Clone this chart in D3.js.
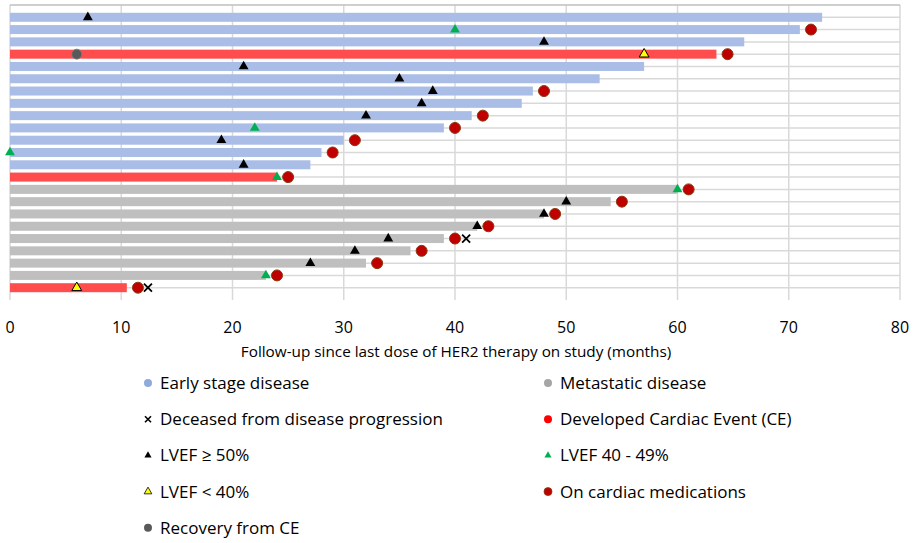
<!DOCTYPE html>
<html>
<head>
<meta charset="utf-8">
<script src="https://cdn.jsdelivr.net/npm/d3@7"></script>
<style>
html,body{margin:0;padding:0;background:#fff;}
text{font-family:"Open Sans","Noto Sans",sans-serif;fill:#000;}
</style>
</head>
<body>
<svg id="chart" width="913" height="543"></svg>
<script>
// ---- data (one entry per patient row, top to bottom) ----
const rowGroup = ["early","early","early","early","early","early","early","early","early","early","early","early","early","early",
                  "meta","meta","meta","meta","meta","meta","meta","meta","meta"];
const rowCE    = [0,0,0,1,0,0,0,0,0,0,0,0,0,1, 0,0,0,0,0,0,0,0,1];
const followUp = [73,71,66,63.5,57,53,47,46,41.5,39,30,28,27,24, 60,54,48,42,39,36,32,23,10.5];

// markers: [row (1 = top), months]
const lvefHigh = [[1,7],[3,48],[5,21],[6,35],[7,38],[8,37],[9,32],[11,19],[13,21],[16,50],[17,48],[18,42],[19,34],[20,31],[21,27]];
const lvefMid  = [[2,40],[10,22],[12,0],[14,24],[15,60],[22,23]];
const lvefLow  = [[4,57],[23,6]];
const onMeds   = [[2,72],[4,64.5],[7,48],[9,42.5],[10,40],[11,31],[12,29],[14,25],[15,61],[16,55],[17,49],[18,43],[19,40],[20,37],[21,33],[22,24],[23,11.5]];
const recovery = [[4,6]];
const deceased = [[19,41],[23,12.4]];

const xTicks = [0,10,20,30,40,50,60,70,80];
const xTitle = "Follow-up since last dose of HER2 therapy on study (months)";

const legendLeft  = [["circle","#8faadc","Early stage disease"],["x","#000","Deceased from disease progression"],["tri","#000","LVEF \u2265 50%"],["triy","#ffff00","LVEF < 40%"],["circle","#595959","Recovery from CE"]];
const legendRight = [["circle","#a6a6a6","Metastatic disease"],["circle","#ff0000","Developed Cardiac Event (CE)"],["tri","#00b050","LVEF 40 - 49%"],["circmed","#c00000","On cardiac medications"]];

// ---- drawing ----
const svg = d3.select("#chart");
const nRows = followUp.length;
const x = d3.scaleLinear().domain([0,80]).range([10,900]);
const y = d3.scaleLinear().domain([0,nRows+1]).range([300,5]);
const rowY = r => y(nRows+1-r);

// gridlines
const g = svg.append("g");
g.selectAll(".hg").data(d3.range(1,nRows+1)).enter().append("line")
  .attr("x1",x(0)).attr("x2",x(80)).attr("y1",d=>y(d)).attr("y2",d=>y(d))
  .attr("stroke","#d9d9d9").attr("stroke-width",1.5);
g.selectAll(".vg").data(xTicks).enter().append("line")
  .attr("x1",d=>x(d)).attr("x2",d=>x(d)).attr("y1",y(0)).attr("y2",y(nRows+1))
  .attr("stroke","#d9d9d9").attr("stroke-width",1.5);
g.append("line").attr("x1",x(0)).attr("x2",x(80)).attr("y1",y(nRows+1)).attr("y2",y(nRows+1))
  .attr("stroke","#bfbfbf").attr("stroke-width",1.5);

// bars
const barColor = i => rowCE[i] ? "#ff4d4d" : (rowGroup[i]==="early" ? "#a9bde6" : "#bfbfbf");
svg.append("g").selectAll("rect").data(followUp).enter().append("rect")
  .attr("x",x(0)).attr("width",d=>x(d)-x(0))
  .attr("y",(d,i)=>rowY(i+1)-4.5).attr("height",9)
  .attr("fill",(d,i)=>barColor(i));

// markers
const triPath = (s) => d3.symbol().type(d3.symbolTriangle).size(s)();
const mk = svg.append("g");
mk.selectAll(".lh").data(lvefHigh).enter().append("path")
  .attr("d",triPath(42)).attr("transform",d=>`translate(${x(d[1])},${rowY(d[0])})`).attr("fill","#000");
mk.selectAll(".lm").data(lvefMid).enter().append("path")
  .attr("d",triPath(42)).attr("transform",d=>`translate(${x(d[1])},${rowY(d[0])})`).attr("fill","#00b050");
mk.selectAll(".ll").data(lvefLow).enter().append("path")
  .attr("d",triPath(42)).attr("transform",d=>`translate(${x(d[1])},${rowY(d[0])})`).attr("fill","#ffff00").attr("stroke","#000").attr("stroke-width",1);
mk.selectAll(".om").data(onMeds).enter().append("circle")
  .attr("cx",d=>x(d[1])).attr("cy",d=>rowY(d[0])).attr("r",5.5)
  .attr("fill","#c00000").attr("stroke","#8a3a10").attr("stroke-width",1);
mk.selectAll(".rc").data(recovery).enter().append("circle")
  .attr("cx",d=>x(d[1])).attr("cy",d=>rowY(d[0])).attr("r",5)
  .attr("fill","#595959").attr("stroke","#7f7f7f").attr("stroke-width",0.8);
mk.selectAll(".dc").data(deceased).enter().append("path")
  .attr("d","M-4,-4L4,4M-4,4L4,-4").attr("transform",d=>`translate(${x(d[1])},${rowY(d[0])})`)
  .attr("stroke","#000").attr("stroke-width",1.8).attr("fill","none");

// x tick labels
svg.append("g").selectAll("text").data(xTicks).enter().append("text")
  .attr("x",d=>x(d)).attr("y",333).attr("text-anchor","middle")
  .attr("font-size",16).text(d=>d);
svg.append("text").attr("x",456).attr("y",357).attr("text-anchor","middle")
  .attr("font-size",15.3).text(xTitle);

// legend
function drawLegend(items, mx, tx) {
  const lg = svg.append("g");
  items.forEach((it,i) => {
    const cy = 383 + i*36.2;
    const [type,color,label] = it;
    if (type==="circle") lg.append("circle").attr("cx",mx).attr("cy",cy).attr("r",4).attr("fill",color);
    else if (type==="circmed") lg.append("circle").attr("cx",mx).attr("cy",cy).attr("r",4).attr("fill",color).attr("stroke","#8a3a10").attr("stroke-width",0.8);
    else if (type==="x") lg.append("path").attr("d","M-3,-3L3,3M-3,3L3,-3").attr("transform",`translate(${mx},${cy})`).attr("stroke",color).attr("stroke-width",1.6);
    else if (type==="tri") lg.append("path").attr("d",triPath(22)).attr("transform",`translate(${mx},${cy})`).attr("fill",color);
    else if (type==="triy") lg.append("path").attr("d",triPath(26)).attr("transform",`translate(${mx},${cy})`).attr("fill",color).attr("stroke","#000").attr("stroke-width",0.8);
    lg.append("text").attr("x",tx).attr("y",cy).attr("dy","0.35em").attr("font-size",17).text(label);
  });
}
drawLegend(legendLeft, 148, 160);
drawLegend(legendRight, 548, 560);
</script>
</body>
</html>
